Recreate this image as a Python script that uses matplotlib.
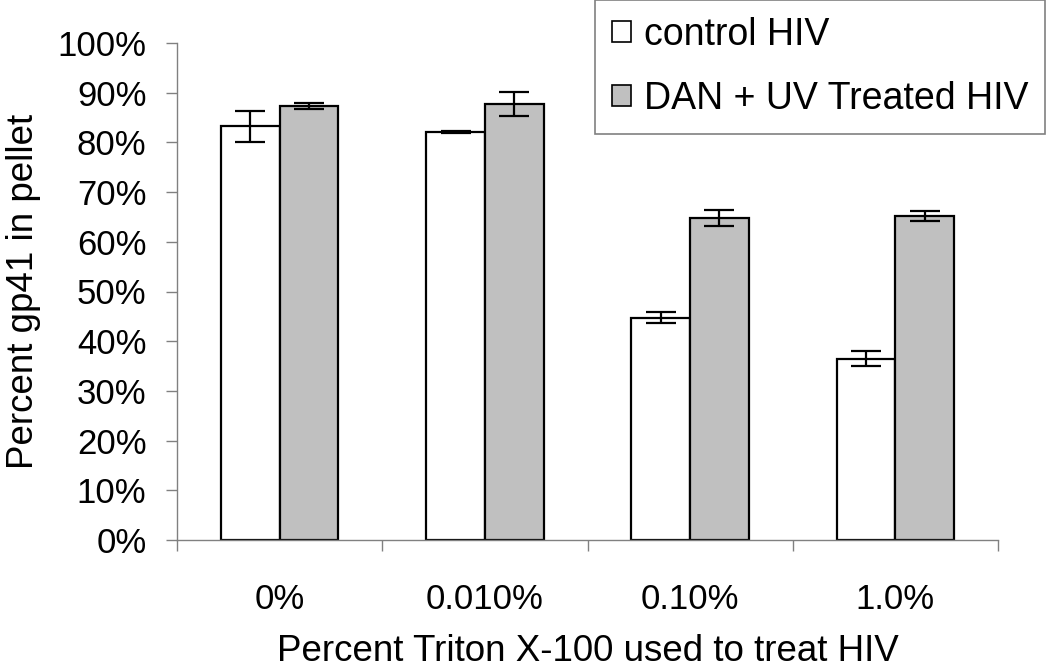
import matplotlib
matplotlib.use("Agg")
import matplotlib.pyplot as plt
from matplotlib.ticker import FixedLocator, PercentFormatter
from matplotlib.patches import Patch
import numpy as np

categories = ["0%", "0.010%", "0.10%", "1.0%"]
control = [0.832, 0.820, 0.447, 0.365]
control_err = [0.032, 0.002, 0.011, 0.015]
dan_uv = [0.873, 0.877, 0.647, 0.652]
dan_uv_err = [0.006, 0.024, 0.016, 0.010]
series_names = ["control HIV", "DAN + UV Treated HIV"]
yticks = [0.0, 0.1, 0.2, 0.3, 0.4, 0.5, 0.6, 0.7, 0.8, 0.9, 1.0]

plt.rcParams['font.family'] = ['Liberation Sans', 'DejaVu Sans']

fig = plt.figure(figsize=(10.5, 6.71), dpi=100)
ax = fig.add_axes([177/1050, 1 - 540/671, (998 - 177)/1050, (540 - 43)/671])

x = np.arange(len(categories))
w = 0.2857
ekw = dict(ecolor='black', elinewidth=1.6, capthick=1.6)
ax.bar(x - w/2, control, w, color='white', edgecolor='black', linewidth=1.6,
       yerr=control_err, capsize=11, error_kw=ekw, zorder=2)
ax.bar(x + w/2, dan_uv, w, color='#c0c0c0', edgecolor='black', linewidth=1.6,
       yerr=dan_uv_err, capsize=11, error_kw=ekw, zorder=2)

ax.set_xlim(-0.5, len(categories) - 0.5)
ax.set_ylim(0, 1.0)
ax.set_yticks(yticks)
ax.yaxis.set_major_formatter(PercentFormatter(1.0, decimals=0))
ax.set_xticks(x)
ax.set_xticklabels(categories)
ax.xaxis.set_minor_locator(FixedLocator(np.arange(-0.5, len(categories), 1.0)))

for s in ['top', 'right']:
    ax.spines[s].set_visible(False)
for s in ['left', 'bottom']:
    ax.spines[s].set_color('#808080')
    ax.spines[s].set_linewidth(1.0)

ax.tick_params(axis='y', which='major', length=8, width=1.0, color='#808080',
               labelsize=25, pad=14, direction='out')
ax.tick_params(axis='x', which='major', length=0, labelsize=25, pad=31)
ax.tick_params(axis='x', which='minor', length=8, width=1.0, color='#808080', direction='out')

ax.set_ylabel("Percent gp41 in pellet", fontsize=26.5, labelpad=12)
ax.set_xlabel("Percent Triton X-100 used to treat HIV", fontsize=26.5, labelpad=13)

handles = [Patch(facecolor='white', edgecolor='black', linewidth=1.2),
           Patch(facecolor='#c0c0c0', edgecolor='black', linewidth=1.2)]
leg = fig.legend(handles, series_names, loc='upper right',
                 bbox_to_anchor=(1045/1050, 1.0), fontsize=27,
                 frameon=True, fancybox=False, edgecolor='#808080',
                 framealpha=1.0, handlelength=0.5, handleheight=0.5,
                 handletextpad=0.35, labelspacing=0.75, borderpad=0.45,
                 borderaxespad=0)
leg.get_frame().set_linewidth(1.2)

fig.savefig("out.png", dpi=100)
